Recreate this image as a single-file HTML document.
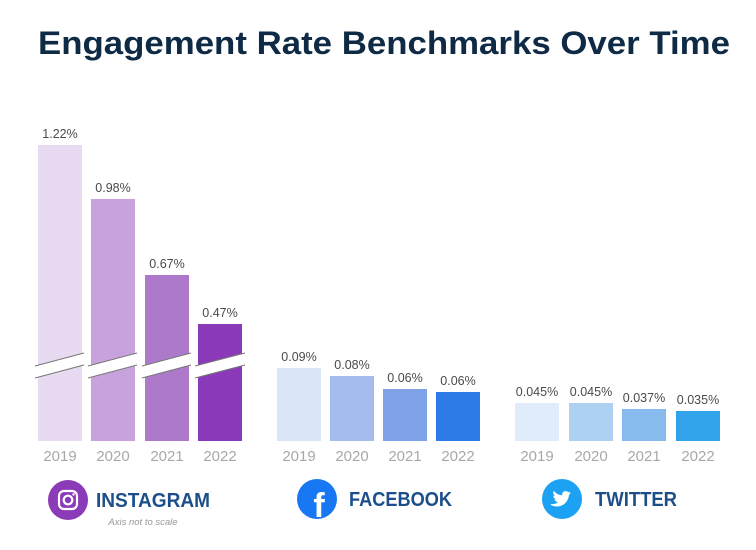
<!DOCTYPE html><html><head><style>body{margin:0;background:#fff}svg{display:block}</style></head><body>
<svg width="756" height="550" xmlns="http://www.w3.org/2000/svg" font-family="Liberation Sans, sans-serif">
<text x="384" y="54" text-anchor="middle" font-size="32" font-weight="bold" fill="#0e2a44" textLength="692" lengthAdjust="spacingAndGlyphs">Engagement Rate Benchmarks Over Time</text>
<g font-size="12.5" fill="#4a4a4a" text-anchor="middle">
<rect x="38" y="145" width="44" height="296" fill="#e8dbf1"/><text x="60" y="138">1.22%</text>
<rect x="91" y="199" width="44" height="242" fill="#c8a2dc"/><text x="113" y="192">0.98%</text>
<rect x="145" y="275" width="44" height="166" fill="#ad7acb"/><text x="167" y="268">0.67%</text>
<rect x="198" y="324" width="44" height="117" fill="#8a3ab8"/><text x="220" y="317">0.47%</text>
<g fill="#fff" stroke="#777" stroke-width="1">
<polygon points="35,366 84,353 84,365 35,378" stroke="none"/><line x1="35" y1="366" x2="84" y2="353"/><line x1="35" y1="378" x2="84" y2="365"/>
<polygon points="88,366 137,353 137,365 88,378" stroke="none"/><line x1="88" y1="366" x2="137" y2="353"/><line x1="88" y1="378" x2="137" y2="365"/>
<polygon points="142,366 191,353 191,365 142,378" stroke="none"/><line x1="142" y1="366" x2="191" y2="353"/><line x1="142" y1="378" x2="191" y2="365"/>
<polygon points="195,366 245,353 245,365 195,378" stroke="none"/><line x1="195" y1="366" x2="245" y2="353"/><line x1="195" y1="378" x2="245" y2="365"/>
</g>
<rect x="277" y="368" width="44" height="73" fill="#dae5f8"/><text x="299" y="361">0.09%</text>
<rect x="330" y="376" width="44" height="65" fill="#a5bdee"/><text x="352" y="369">0.08%</text>
<rect x="383" y="389" width="44" height="52" fill="#7fa2e8"/><text x="405" y="382">0.06%</text>
<rect x="436" y="392" width="44" height="49" fill="#2d7be6"/><text x="458" y="385">0.06%</text>
<rect x="515" y="403" width="44" height="38" fill="#e0ecf9"/><text x="537" y="396">0.045%</text>
<rect x="569" y="403" width="44" height="38" fill="#aed1f3"/><text x="591" y="396">0.045%</text>
<rect x="622" y="409" width="44" height="32" fill="#87bbee"/><text x="644" y="402">0.037%</text>
<rect x="676" y="411" width="44" height="30" fill="#30a3ea"/><text x="698" y="404">0.035%</text>
</g>
<g font-size="15" fill="#a8a8a8" text-anchor="middle">
<text x="60" y="461">2019</text><text x="113" y="461">2020</text><text x="167" y="461">2021</text><text x="220" y="461">2022</text>
<text x="299" y="461">2019</text><text x="352" y="461">2020</text><text x="405" y="461">2021</text><text x="458" y="461">2022</text>
<text x="537" y="461">2019</text><text x="591" y="461">2020</text><text x="644" y="461">2021</text><text x="698" y="461">2022</text>
</g>
<circle cx="68" cy="500" r="20" fill="#8b3ab8"/>
<rect x="59" y="491" width="18" height="18" rx="5" fill="none" stroke="#fff" stroke-width="2.2"/>
<circle cx="68" cy="500" r="4.3" fill="none" stroke="#fff" stroke-width="2.2"/><circle cx="73.5" cy="494.5" r="1.2" fill="#fff"/>
<circle cx="317" cy="499" r="20" fill="#1877f2"/>
<text x="319" y="517" font-size="34" font-weight="bold" fill="#fff" text-anchor="middle">f</text>
<circle cx="562" cy="499" r="20" fill="#1da1f2"/>
<path d="M551 505c7 4 17 0 18-10l2-2-2 0.5 1.5-2-2.2 0.8c-2-2.5-7-1-6 3-4-0.3-6.5-2-8.5-4.5-1.2 2 0 4.5 1.3 5.3l-1.8-0.5c0 2 1.5 3.3 3 3.8h-2c0.7 1.8 2.3 2.6 3.8 2.7-2 1.5-4.2 2.2-7 1.9z" fill="#fff"/>
<g font-size="20" font-weight="bold" fill="#1c4f8a">
<text x="96" y="507" textLength="114" lengthAdjust="spacingAndGlyphs">INSTAGRAM</text>
<text x="349" y="506" textLength="103" lengthAdjust="spacingAndGlyphs">FACEBOOK</text>
<text x="595" y="506" textLength="82" lengthAdjust="spacingAndGlyphs">TWITTER</text>
</g>
<text x="143" y="525" font-size="9.5" font-style="italic" fill="#999" text-anchor="middle">Axis not to scale</text>
</svg></body></html>
